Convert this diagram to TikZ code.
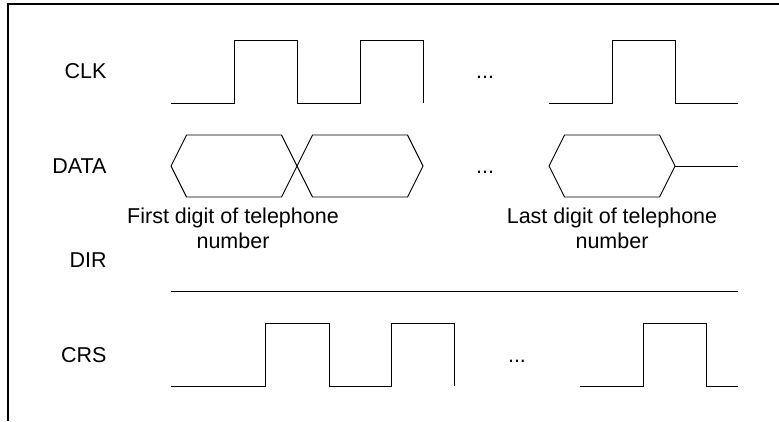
\documentclass[tikz,border=0pt]{standalone}
\usepackage{fontspec}
\setmainfont{Liberation Sans}
\usetikzlibrary{positioning}
\newcommand{\SigFont}{\fontsize{21.5}{25}\selectfont}

\begin{document}
\begin{tikzpicture}[x=1pt,y=-1pt,line width=0.9pt,line join=miter,
  sig/.style={anchor=base east,font=\SigFont,inner sep=0pt},
  gap/.style={anchor=base,font=\SigFont,inner sep=0pt},
  note/.style={anchor=base,align=center,font=\SigFont,inner sep=0pt}]
  \useasboundingbox (0,0) rectangle (779,421);
  % frame
  \draw[line width=2.5pt] (8,421) -- (8,4) -- (779,4);

  % signal names
  \node[sig] (Clk)  at (107,78)  {CLK};
  \node[sig] (Data) at (107,173) {DATA};
  \node[sig] (Dir)  at (107,267) {DIR};
  \node[sig] (Crs)  at (107,362) {CRS};

  % CLK
  \draw (171,103) -- (234,103) |- (297,40) |- (360,103) |- (423,40) -- (423,103);
  \draw (549,103) -- (612,103) |- (675,40) |- (738,103);
  \node[gap] (ClkGap) at (485,78) {...};

  % DATA
  \foreach \a in {171,297,549}
    \draw (\a,166) -- ++(15.5,-31) -- ++(95,0) -- ++(15.5,31)
      -- ++(-15.5,31) -- ++(-95,0) -- cycle;
  \draw (675,166) -- (738,166);
  \node[gap] (DataGap) at (485,173) {...};
  \node[note] (First) at (233,248) {First digit of telephone\\number};
  \node[note] (Last)  at (612,248) {Last digit of telephone\\number};

  % DIR
  \draw (171,291) -- (738,291);

  % CRS
  \draw (171,386) -- (265,386) |- (329,323) |- (391,386) |- (454,323) -- (454,386);
  \draw (580,386) -- (643,386) |- (706,323) |- (738,386);
  \node[gap] (CrsGap) at (517,362) {...};
\end{tikzpicture}
\end{document}
